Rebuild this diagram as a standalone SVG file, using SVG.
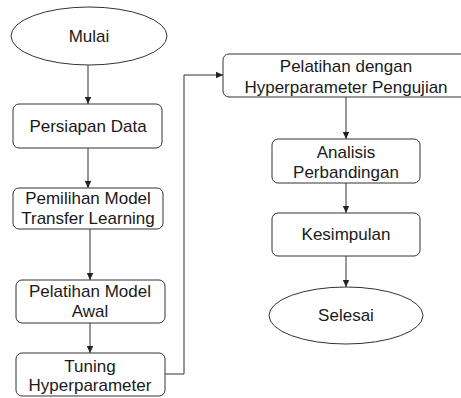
<svg xmlns="http://www.w3.org/2000/svg" width="461" height="398" viewBox="0 0 461 398">
<style>
.n{fill:#fff;stroke:#333;stroke-width:1}
.t{font-family:"Liberation Sans",Arial,sans-serif;font-size:17px;fill:#1a1a1a;text-anchor:middle}
.c{fill:none;stroke:#333;stroke-width:1;marker-end:url(#a)}
</style>
<defs>
<marker id="a" markerWidth="8" markerHeight="8" refX="7" refY="4" orient="auto" markerUnits="userSpaceOnUse">
<path d="M0,0.8 L7,4 L0,7.2 Z" fill="#222"/>
</marker>
</defs>
<rect width="461" height="398" fill="#fff"/>
<g id="connectors">
<path class="c" d="M88,65 V104"/>
<path class="c" d="M88,148 V188"/>
<path class="c" d="M90,229 V280"/>
<path class="c" d="M90,323 V353"/>
<path class="c" d="M165,374 H184 V75 H223"/>
<path class="c" d="M346,97 V139"/>
<path class="c" d="M346,183 V213"/>
<path class="c" d="M346,256 V287"/>
</g>
<g id="mulai"><ellipse class="n" cx="89" cy="36" rx="78" ry="29"/><text class="t" x="89" y="42">Mulai</text></g>
<g id="persiapan"><rect class="n" x="13" y="104" width="149" height="44" rx="6"/><text class="t" x="88" y="132">Persiapan Data</text></g>
<g id="pemilihan"><rect class="n" x="13" y="188" width="150" height="41" rx="6"/><text class="t" x="88" y="204">Pemilihan Model</text><text class="t" x="88" y="224">Transfer Learning</text></g>
<g id="pelatihan-awal"><rect class="n" x="16" y="280" width="149" height="43" rx="6"/><text class="t" x="90" y="297">Pelatihan Model</text><text class="t" x="90" y="317">Awal</text></g>
<g id="tuning"><rect class="n" x="16" y="353" width="149" height="43" rx="6"/><text class="t" x="90" y="372">Tuning</text><text class="t" x="90" y="391">Hyperparameter</text></g>
<g id="pelatihan-pengujian"><rect class="n" x="223" y="54" width="246" height="43" rx="6"/><text class="t" x="346" y="72">Pelatihan dengan</text><text class="t" x="346" y="93">Hyperparameter Pengujian</text></g>
<g id="analisis"><rect class="n" x="272" y="139" width="148" height="44" rx="6"/><text class="t" x="346" y="158">Analisis</text><text class="t" x="346" y="178">Perbandingan</text></g>
<g id="kesimpulan"><rect class="n" x="272" y="213" width="148" height="43" rx="6"/><text class="t" x="346" y="240">Kesimpulan</text></g>
<g id="selesai"><ellipse class="n" cx="346" cy="315.5" rx="77" ry="28.5"/><text class="t" x="346" y="321">Selesai</text></g>
</svg>
